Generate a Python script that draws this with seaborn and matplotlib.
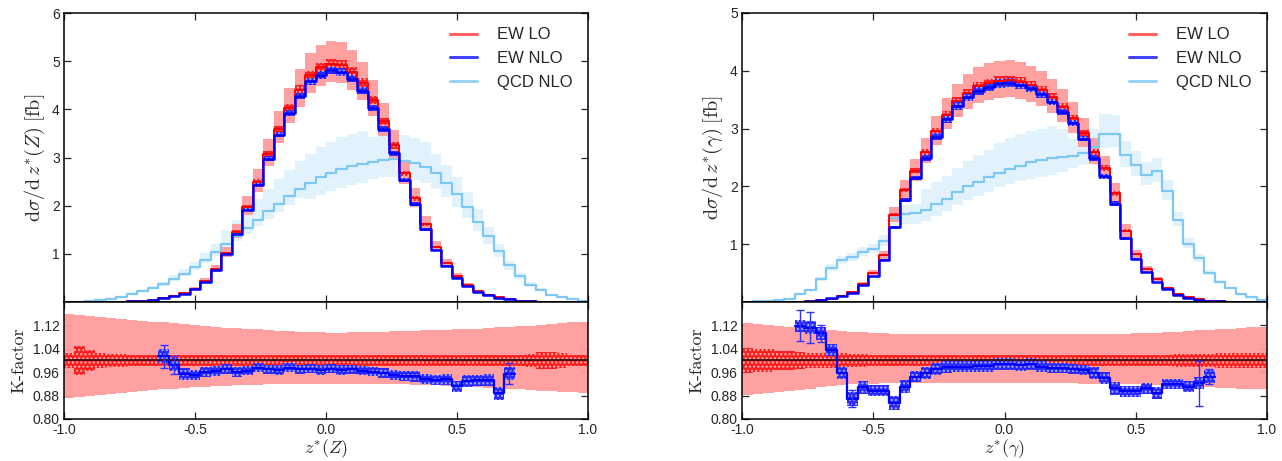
"""
EW LO / EW NLO / QCD NLO  -  rozklady z*(Z) i z*(gamma) z K-faktorem
"""

import numpy as np
import matplotlib
matplotlib.use("Agg")
import matplotlib.pyplot as plt
from matplotlib.lines import Line2D
import seaborn as sns

nan = np.nan

# binning z* : 50 binow po 0.04
z_edges = np.linspace(-1.0, 1.0, 51)
z_ticks = [-1.0, -0.5, 0.0, 0.5, 1.0]
z_tick_labels = ["-1.0", "-0.5", "0.0", "0.5", "1.0"]
k_ticks = [0.80, 0.88, 0.96, 1.04, 1.12]
k_tick_labels = ["0.80", "0.88", "0.96", "1.04", "1.12"]
legend_labels = ["EW LO", "EW NLO", "QCD NLO"]

# ---------------- panel z*(Z) ----------------
lo_Z = [0.0, 0.0, 0.001, 0.002, 0.004, 0.008, 0.015, 0.025, 0.045, 0.075,
        0.12, 0.18, 0.28, 0.44, 0.69, 1.02, 1.46, 1.98, 2.50, 3.07,
        3.59, 4.03, 4.41, 4.71, 4.87, 4.95, 4.93, 4.78, 4.55, 4.19,
        3.75, 3.25, 2.67, 2.15, 1.61, 1.15, 0.80, 0.55, 0.35, 0.23,
        0.145, 0.10, 0.055, 0.03, 0.017, 0.009, 0.005, 0.002, 0.001, 0.0]
qcd_Z = [0.005, 0.01, 0.02, 0.04, 0.07, 0.11, 0.16, 0.22, 0.30, 0.38,
         0.48, 0.59, 0.72, 0.88, 1.04, 1.20, 1.37, 1.54, 1.71, 1.88,
         2.04, 2.20, 2.35, 2.48, 2.59, 2.68, 2.76, 2.82, 2.87, 2.91,
         2.94, 2.96, 2.93, 2.89, 2.81, 2.67, 2.48, 2.25, 1.98, 1.67,
         1.36, 1.06, 0.76, 0.54, 0.36, 0.25, 0.15, 0.10, 0.055, 0.025]
qcd_up_Z = [0.12, 0.12, 0.12, 0.12, 0.12, 0.12, 0.12, 0.12, 0.12, 0.12,
            0.16, 0.16, 0.16, 0.16, 0.16, 0.25, 0.25, 0.25, 0.25, 0.25,
            0.25, 0.25, 0.25, 0.24, 0.24, 0.24, 0.24, 0.24, 0.24, 0.18,
            0.18, 0.18, 0.18, 0.18, 0.18, 0.15, 0.15, 0.15, 0.15, 0.15,
            0.15, 0.13, 0.13, 0.13, 0.13, 0.13, 0.13, 0.13, 0.13, 0.13]
qcd_dn_Z = [0.10, 0.10, 0.10, 0.10, 0.10, 0.10, 0.10, 0.10, 0.10, 0.10,
            0.08, 0.08, 0.08, 0.08, 0.08, 0.08, 0.08, 0.08, 0.08, 0.08,
            0.08, 0.08, 0.08, 0.14, 0.14, 0.14, 0.14, 0.14, 0.14, 0.12,
            0.12, 0.12, 0.12, 0.12, 0.12, 0.12, 0.12, 0.12, 0.12, 0.12,
            0.12, 0.12, 0.12, 0.12, 0.12, 0.12, 0.12, 0.12, 0.12, 0.12]
# pasmo skali EW LO (wzgledne)
scale_up_Z = [0.160, 0.156, 0.152, 0.148, 0.145, 0.142, 0.139, 0.136, 0.133, 0.130,
              0.127, 0.124, 0.121, 0.118, 0.115, 0.112, 0.110, 0.108, 0.106, 0.104,
              0.102, 0.100, 0.098, 0.097, 0.096, 0.095, 0.095, 0.096, 0.097, 0.098,
              0.099, 0.100, 0.101, 0.102, 0.103, 0.104, 0.105, 0.106, 0.107, 0.109,
              0.111, 0.113, 0.115, 0.117, 0.119, 0.121, 0.124, 0.127, 0.130, 0.133]
scale_dn_Z = [0.128, 0.124, 0.120, 0.117, 0.114, 0.111, 0.108, 0.105, 0.102, 0.099,
              0.096, 0.094, 0.092, 0.090, 0.088, 0.086, 0.085, 0.084, 0.083, 0.082,
              0.081, 0.080, 0.080, 0.079, 0.079, 0.079, 0.079, 0.079, 0.080, 0.080,
              0.081, 0.081, 0.082, 0.083, 0.084, 0.085, 0.086, 0.087, 0.089, 0.091,
              0.093, 0.095, 0.097, 0.099, 0.101, 0.103, 0.105, 0.107, 0.109, 0.110]
stat_Z = [0.025, 0.050, 0.035, 0.025, 0.022, 0.021, 0.020, 0.020, 0.020, 0.020,
          0.020, 0.020, 0.020, 0.020, 0.020, 0.020, 0.020, 0.020, 0.020, 0.020,
          0.020, 0.020, 0.020, 0.020, 0.020, 0.020, 0.020, 0.020, 0.020, 0.020,
          0.020, 0.020, 0.020, 0.020, 0.020, 0.020, 0.020, 0.020, 0.020, 0.020,
          0.020, 0.020, 0.020, 0.020, 0.022, 0.028, 0.028, 0.024, 0.020, 0.020]
# K-faktor EW NLO / EW LO
k_Z = [nan, nan, nan, nan, nan, nan, nan, nan, nan, 1.015,
       0.985, 0.955, 0.950, 0.962, 0.965, 0.970, 0.960, 0.965, 0.975, 0.970,
       0.968, 0.975, 0.970, 0.972, 0.968, 0.972, 0.968, 0.970, 0.965, 0.962,
       0.958, 0.950, 0.948, 0.946, 0.936, 0.934, 0.936, 0.912, 0.930, 0.932,
       0.934, 0.888, 0.955, nan, nan, nan, nan, nan, nan, nan]
k_band_Z = [nan, nan, nan, nan, nan, nan, nan, nan, nan, 0.025,
            0.022, 0.020, 0.018, 0.017, 0.017, 0.017, 0.017, 0.016, 0.016, 0.016,
            0.016, 0.016, 0.016, 0.016, 0.016, 0.016, 0.016, 0.016, 0.016, 0.016,
            0.017, 0.017, 0.017, 0.018, 0.018, 0.018, 0.019, 0.019, 0.019, 0.020,
            0.020, 0.022, 0.022, nan, nan, nan, nan, nan, nan, nan]
k_err_Z = [nan, nan, nan, nan, nan, nan, nan, nan, nan, 0.039,
           0.030, nan, nan, nan, nan, nan, nan, nan, nan, nan,
           nan, nan, nan, nan, nan, nan, nan, nan, nan, nan,
           nan, nan, nan, nan, nan, nan, nan, nan, nan, nan,
           nan, nan, 0.035, nan, nan, nan, nan, nan, nan, nan]

# ---------------- panel z*(gamma) ----------------
lo_A = [0.0, 0.0, 0.0, 0.001, 0.003, 0.006, 0.015, 0.03, 0.06, 0.11,
        0.18, 0.32, 0.50, 0.81, 1.51, 1.94, 2.27, 2.60, 2.95, 3.24,
        3.47, 3.62, 3.73, 3.79, 3.83, 3.84, 3.81, 3.75, 3.67, 3.55,
        3.38, 3.18, 2.92, 2.60, 2.32, 1.88, 1.23, 0.83, 0.57, 0.39,
        0.24, 0.14, 0.08, 0.045, 0.025, 0.012, 0.006, 0.003, 0.001, 0.0]
qcd_A = [0.005, 0.01, 0.02, 0.03, 0.06, 0.13, 0.21, 0.39, 0.59, 0.72,
         0.77, 0.86, 0.92, 1.05, 1.45, 1.53, 1.54, 1.60, 1.70, 1.79,
         1.90, 2.00, 2.08, 2.16, 2.23, 2.30, 2.36, 2.42, 2.46, 2.49,
         2.50, 2.52, 2.58, 2.68, 2.90, 2.91, 2.54, 2.37, 2.20, 2.26,
         1.92, 1.42, 1.01, 0.76, 0.50, 0.35, 0.24, 0.13, 0.08, 0.035]
qcd_up_A = [0.10, 0.10, 0.10, 0.10, 0.10, 0.10, 0.10, 0.10, 0.10, 0.10,
            0.10, 0.10, 0.10, 0.10, 0.12, 0.10, 0.10, 0.22, 0.22, 0.22,
            0.22, 0.22, 0.22, 0.22, 0.23, 0.23, 0.23, 0.22, 0.22, 0.22,
            0.20, 0.12, 0.12, 0.12, 0.12, 0.11, 0.10, 0.10, 0.10, 0.10,
            0.10, 0.10, 0.10, 0.10, 0.10, 0.10, 0.10, 0.10, 0.10, 0.10]
qcd_dn_A = [0.08, 0.08, 0.08, 0.08, 0.08, 0.08, 0.08, 0.08, 0.08, 0.08,
            0.08, 0.08, 0.08, 0.08, 0.08, 0.12, 0.12, 0.12, 0.12, 0.12,
            0.12, 0.12, 0.12, 0.12, 0.11, 0.11, 0.11, 0.12, 0.12, 0.12,
            0.10, 0.08, 0.08, 0.08, 0.08, 0.08, 0.08, 0.08, 0.08, 0.08,
            0.08, 0.08, 0.08, 0.08, 0.08, 0.08, 0.08, 0.08, 0.08, 0.08]
scale_up_A = [0.127, 0.124, 0.121, 0.118, 0.115, 0.112, 0.109, 0.106, 0.103, 0.100,
              0.098, 0.096, 0.094, 0.093, 0.092, 0.091, 0.090, 0.090, 0.089, 0.089,
              0.089, 0.089, 0.089, 0.089, 0.089, 0.089, 0.089, 0.089, 0.089, 0.089,
              0.089, 0.089, 0.090, 0.090, 0.091, 0.091, 0.092, 0.093, 0.094, 0.095,
              0.097, 0.099, 0.101, 0.103, 0.105, 0.107, 0.109, 0.111, 0.113, 0.116]
scale_dn_A = [0.118, 0.115, 0.112, 0.108, 0.104, 0.100, 0.096, 0.092, 0.088, 0.085,
              0.082, 0.080, 0.079, 0.078, 0.078, 0.078, 0.078, 0.078, 0.078, 0.078,
              0.078, 0.078, 0.078, 0.078, 0.078, 0.078, 0.078, 0.078, 0.078, 0.078,
              0.078, 0.078, 0.079, 0.079, 0.080, 0.080, 0.081, 0.082, 0.083, 0.084,
              0.085, 0.086, 0.088, 0.090, 0.092, 0.094, 0.095, 0.096, 0.098, 0.099]
stat_A = [0.042, 0.040, 0.038, 0.033, 0.031, 0.030, 0.027, 0.026, 0.025, 0.024,
          0.022, 0.021, 0.020, 0.020, 0.020, 0.020, 0.020, 0.020, 0.020, 0.020,
          0.020, 0.020, 0.020, 0.020, 0.020, 0.020, 0.020, 0.020, 0.020, 0.020,
          0.020, 0.020, 0.020, 0.020, 0.020, 0.020, 0.020, 0.020, 0.020, 0.020,
          0.020, 0.021, 0.022, 0.022, 0.023, 0.024, 0.024, 0.024, 0.024, 0.024]
k_A = [nan, nan, nan, nan, nan, 1.118, 1.112, 1.093, 1.035, 0.958,
       0.870, 0.908, 0.897, 0.897, 0.855, 0.911, 0.945, 0.958, 0.970, 0.977,
       0.979, 0.979, 0.980, 0.982, 0.988, 0.988, 0.985, 0.988, 0.979, 0.975,
       0.973, 0.972, 0.968, 0.958, 0.939, 0.905, 0.895, 0.895, 0.905, 0.888,
       0.920, 0.920, 0.911, 0.922, 0.945, nan, nan, nan, nan, nan]
k_band_A = [nan, nan, nan, nan, nan, 0.022, 0.022, 0.022, 0.021, 0.021,
            0.024, 0.021, 0.020, 0.020, 0.024, 0.021, 0.020, 0.020, 0.020, 0.020,
            0.020, 0.020, 0.020, 0.020, 0.020, 0.020, 0.020, 0.020, 0.018, 0.017,
            0.017, 0.017, 0.017, 0.021, 0.020, 0.022, 0.019, 0.019, 0.019, 0.021,
            0.018, 0.018, 0.018, 0.020, 0.022, nan, nan, nan, nan, nan]
k_err_A = [nan, nan, nan, nan, nan, 0.053, 0.053, 0.030, nan, nan,
           0.028, nan, nan, nan, nan, nan, nan, nan, nan, nan,
           nan, nan, nan, nan, nan, nan, nan, nan, nan, nan,
           nan, nan, nan, nan, nan, nan, nan, nan, nan, nan,
           nan, nan, nan, 0.076, 0.027, nan, nan, nan, nan, nan]

# kolory
c_lo_band = "#FF9C9C"
c_lo_hatch = "#FF1E1E"
c_lo_line = "#FF0000"
c_nlo = "#0000FF"
c_qcd = "#7EC8F5"
c_qcd_band = "#E2F2FC"

sns.set_style("ticks")
plt.rcParams["font.family"] = ["Liberation Sans", "DejaVu Sans"]
plt.rcParams["mathtext.fontset"] = "cm"
plt.rcParams["axes.unicode_minus"] = False
plt.rcParams["hatch.linewidth"] = 1.0


def steps(vals):
    v = np.asarray(vals, dtype=float)
    return np.append(v, v[-1])


def style_axes(ax, ylim, yticks, yticklabels, bottom_labels):
    ax.set_xlim(-1.0, 1.0)
    ax.set_ylim(*ylim)
    ax.set_xticks(z_ticks)
    ax.set_yticks(yticks)
    ax.set_yticklabels(yticklabels)
    if bottom_labels:
        ax.set_xticklabels(z_tick_labels)
    ax.tick_params(direction="in", top=True, right=True, length=5, width=0.9,
                   labelsize=10, labelbottom=bottom_labels, pad=3)
    for sp in ax.spines.values():
        sp.set_linewidth(1.1)
        sp.set_color("black")


def draw_main(ax, lo, k, qcd, up, dn, stat, k_band, q_up, q_dn):
    lo = np.asarray(lo)
    qcd = np.asarray(qcd)
    k = np.asarray(k)
    kb = np.nan_to_num(np.asarray(k_band), nan=0.02)
    nlo = lo * np.where(np.isnan(k), 0.96, k)

    ax.fill_between(z_edges, steps(qcd * (1 - np.asarray(q_dn))), steps(qcd * (1 + np.asarray(q_up))),
                    step="post", color=c_qcd_band, lw=0)
    ax.fill_between(z_edges, steps(lo * (1 - np.asarray(dn))), steps(lo * (1 + np.asarray(up))),
                    step="post", color=c_lo_band, lw=0, alpha=0.95)
    ax.fill_between(z_edges, steps(lo * (1 - np.asarray(stat))), steps(lo * (1 + np.asarray(stat))),
                    step="post", facecolor=c_lo_hatch, edgecolor="#FFB8B8", hatch="....", lw=0)
    ax.fill_between(z_edges, steps(nlo * (1 - kb)), steps(nlo * (1 + kb)),
                    step="post", facecolor="#2828FF", edgecolor="#AFAFFF", hatch="....", lw=0)

    sns.lineplot(x=z_edges, y=steps(qcd), drawstyle="steps-post", color=c_qcd,
                 lw=1.6, ax=ax, estimator=None)
    sns.lineplot(x=z_edges, y=steps(lo), drawstyle="steps-post", color=c_lo_line,
                 lw=1.4, ax=ax, estimator=None)
    sns.lineplot(x=z_edges, y=steps(nlo), drawstyle="steps-post", color=c_nlo,
                 lw=1.8, ax=ax, estimator=None)

    handles = [Line2D([], [], color="#FF6060", lw=2.2),
               Line2D([], [], color="#4040FF", lw=2.2),
               Line2D([], [], color="#9AD4F5", lw=2.2)]
    ax.legend(handles, legend_labels, loc="upper right", frameon=False, fontsize=12,
              handlelength=1.6, handletextpad=1.2, labelspacing=0.52,
              bbox_to_anchor=(0.99, 0.985), borderaxespad=0.2)


def draw_ratio(ax, k, up, dn, stat, k_band, k_err):
    k = np.asarray(k)
    ax.fill_between(z_edges, steps(1 - np.asarray(dn)), steps(1 + np.asarray(up)),
                    step="post", color=c_lo_band, lw=0, alpha=0.95)
    ax.fill_between(z_edges, steps(1 - np.asarray(stat)), steps(1 + np.asarray(stat)),
                    step="post", facecolor=c_lo_hatch, edgecolor="#FFB8B8", hatch="....", lw=0)
    ax.axhline(1.0, color="#3A1212", lw=1.3)

    valid = np.where(~np.isnan(k))[0]
    i0, i1 = valid[0], valid[-1] + 1
    xs = z_edges[i0:i1 + 1]
    kv = k[i0:i1]
    kb = np.asarray(k_band)[i0:i1]
    ax.fill_between(xs, steps(kv - kb), steps(kv + kb), step="post",
                    facecolor="#2828FF", edgecolor="#AFAFFF", hatch="....", lw=0)
    sns.lineplot(x=xs, y=steps(kv), drawstyle="steps-post", color=c_nlo,
                 lw=1.6, ax=ax, estimator=None)

    centers = 0.5 * (z_edges[:-1] + z_edges[1:])
    err = np.asarray(k_err)
    m = ~np.isnan(err)
    ax.errorbar(centers[m], k[m], yerr=err[m], fmt="none", ecolor="#3030FF",
                elinewidth=1.0, capsize=3, capthick=1.0)


fig = plt.figure(figsize=(12.82, 4.61), dpi=100)

panels = [
    dict(x0=64 / 1282, w=524 / 1282, lo=lo_Z, k=k_Z, qcd=qcd_Z, up=scale_up_Z, dn=scale_dn_Z,
         stat=stat_Z, kb=k_band_Z, kerr=k_err_Z, qu=qcd_up_Z, qd=qcd_dn_Z, ymax=6,
         ylabel=r"$\mathrm{d}\sigma/\mathrm{d}\,z^{*}(Z)\;[\mathrm{fb}]$", xlabel=r"$z^{*}(Z)$"),
    dict(x0=742 / 1282, w=525 / 1282, lo=lo_A, k=k_A, qcd=qcd_A, up=scale_up_A, dn=scale_dn_A,
         stat=stat_A, kb=k_band_A, kerr=k_err_A, qu=qcd_up_A, qd=qcd_dn_A, ymax=5,
         ylabel=r"$\mathrm{d}\sigma/\mathrm{d}\,z^{*}(\gamma)\;[\mathrm{fb}]$", xlabel=r"$z^{*}(\gamma)$"),
]

for p in panels:
    ax_m = fig.add_axes([p["x0"], 1 - 302 / 461, p["w"], 289 / 461])
    ax_r = fig.add_axes([p["x0"], 1 - 419 / 461, p["w"], 117 / 461])

    draw_main(ax_m, p["lo"], p["k"], p["qcd"], p["up"], p["dn"], p["stat"], p["kb"], p["qu"], p["qd"])
    yt = list(range(1, p["ymax"] + 1))
    style_axes(ax_m, (0, p["ymax"]), yt, [str(v) for v in yt], False)
    ax_m.set_xlabel("")
    ax_m.set_ylabel(p["ylabel"], fontsize=14.5)
    ax_m.yaxis.set_label_coords(-0.032, 0.5)

    draw_ratio(ax_r, p["k"], p["up"], p["dn"], p["stat"], p["kb"], p["kerr"])
    style_axes(ax_r, (0.80, 1.20), k_ticks, k_tick_labels, True)
    ax_r.set_xlabel(p["xlabel"], fontsize=13)
    ax_r.xaxis.set_label_coords(0.5, -0.155)
    ax_r.set_ylabel("K-factor", fontsize=13, fontname="cmr10")
    ax_r.yaxis.set_label_coords(-0.072, 0.5)

fig.savefig("out.png", dpi=100)
